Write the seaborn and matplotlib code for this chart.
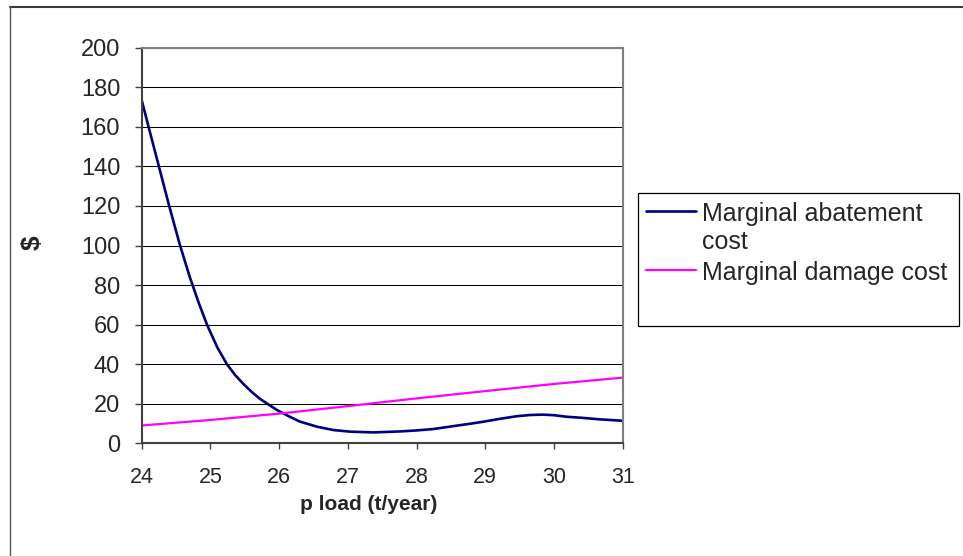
import numpy as np
import pandas as pd
import matplotlib
matplotlib.use("Agg")
import matplotlib.pyplot as plt
from matplotlib.lines import Line2D
from matplotlib.patches import Rectangle
import seaborn as sns

# ---- data ----
abate_x = [24.0, 24.1, 24.25, 24.4, 24.55, 24.7, 24.83, 24.95, 25.1, 25.24,
           25.36, 25.48, 25.6, 25.72, 25.85, 25.97, 26.15, 26.3, 26.55, 26.79,
           27.03, 27.37, 27.76, 28.0, 28.24, 28.4, 28.6, 28.8, 28.97, 29.2,
           29.46, 29.65, 29.84, 30.0, 30.19, 30.4, 30.67, 30.85, 31.0]
abate_y = [173.5, 160, 140, 120, 101, 84, 71, 60, 48.5, 40,
           34.5, 30.0, 26.0, 22.5, 19.5, 16.8, 13.5, 11.0, 8.4, 6.7,
           5.9, 5.5, 6.0, 6.5, 7.2, 8.0, 9.0, 10.0, 10.9, 12.3,
           13.7, 14.3, 14.5, 14.2, 13.4, 12.9, 12.1, 11.7, 11.4]
damage_x = [24, 25, 26, 27, 28, 29, 30, 31]
damage_y = [9.0, 11.8, 15.0, 18.8, 22.7, 26.4, 30.0, 33.2]

series_names = ["Marginal abatement cost", "Marginal damage cost"]
legend_labels = ["Marginal abatement\ncost", "Marginal damage cost"]
colors = ["#000080", "#FF00FF"]
y_ticks = list(range(0, 201, 20))
x_ticks = list(range(24, 32))
x_label = "p load (t/year)"
y_label = "$"

df = pd.concat([
    pd.DataFrame({"x": abate_x, "y": abate_y, "series": series_names[0]}),
    pd.DataFrame({"x": damage_x, "y": damage_y, "series": series_names[1]}),
], ignore_index=True)

sns.set_style("white")
plt.rcParams["font.family"] = ["Liberation Sans", "DejaVu Sans"]

W, H = 963, 556
fig = plt.figure(figsize=(W / 100, H / 100), dpi=100)
fig.patch.set_facecolor("white")

# plot area in pixels
L, R, T, B = 141.7, 622.7, 47.7, 443.3
ax = fig.add_axes([L / W, 1 - B / H, (R - L) / W, (B - T) / H])

sns.lineplot(data=df, x="x", y="y", hue="series", palette=colors,
             hue_order=series_names, sort=False, estimator=None,
             linewidth=1.9, ax=ax)
if ax.get_legend() is not None:
    ax.get_legend().remove()
lines = ax.get_lines()
lines[0].set_solid_joinstyle("round")
lines[1].set_linewidth(1.6)

ax.set_xlim(24, 31)
ax.set_ylim(0, 200)
ax.set_xticks(x_ticks)
ax.set_yticks(y_ticks)
ax.set_xticklabels([str(v) for v in x_ticks], fontsize=15.5)
ax.set_yticklabels([str(v) for v in y_ticks], fontsize=17)
ax.set_xlabel("")
ax.set_ylabel("")
ax.yaxis.grid(True, color="black", linewidth=0.75)
ax.xaxis.grid(False)
ax.set_axisbelow(True)

for s in ["left", "bottom"]:
    ax.spines[s].set_color("#404040")
    ax.spines[s].set_linewidth(1.5)
for s in ["top", "right"]:
    ax.spines[s].set_color("#808080")
    ax.spines[s].set_linewidth(1.5)
ax.tick_params(axis="y", which="major", direction="out", length=5, width=1,
               color="#404040", pad=10.5, left=True)
ax.tick_params(axis="x", which="major", direction="out", length=4, width=1,
               color="#404040", pad=13, bottom=True)

# axis titles
fig.text(369 / W, 1 - 504 / H, x_label, fontsize=15, fontweight="bold",
         ha="center", va="center")
fig.text(33 / W, 1 - 242.5 / H, y_label, fontsize=19, fontweight="bold",
         rotation=90, ha="center", va="center")

# legend frame
lx0, ly0, lx1, ly1 = 638.3, 192.7, 959.3, 326
fig.patches.append(Rectangle((lx0 / W, 1 - ly1 / H), (lx1 - lx0) / W, (ly1 - ly0) / H,
                             transform=fig.transFigure, facecolor="white",
                             edgecolor="black", linewidth=0.9, zorder=1))
leg_handles = [Line2D([], [], color=colors[0], linewidth=1.9),
               Line2D([], [], color=colors[1], linewidth=1.6)]
leg = fig.legend(leg_handles, legend_labels, loc="upper left",
                 bbox_to_anchor=(646 / W, 1 - 202 / H), frameon=False,
                 fontsize=18, borderpad=0, borderaxespad=0,
                 handlelength=2.0, handletextpad=0.23, labelspacing=0.3)
leg.set_zorder(3)
for col in leg._legend_handle_box.get_children():
    for entry in col.get_children():
        entry.align = "top"

# outer chart frame (top and left edges visible)
fig.add_artist(Line2D([9.5 / W, 1], [1 - 6.5 / H, 1 - 6.5 / H],
                      transform=fig.transFigure, color="#3a3a3a", linewidth=1.5))
fig.add_artist(Line2D([9.5 / W, 9.5 / W], [0, 1 - 6.5 / H],
                      transform=fig.transFigure, color="#555555", linewidth=1.0))

fig.savefig("out.png", dpi=100, facecolor="white")
